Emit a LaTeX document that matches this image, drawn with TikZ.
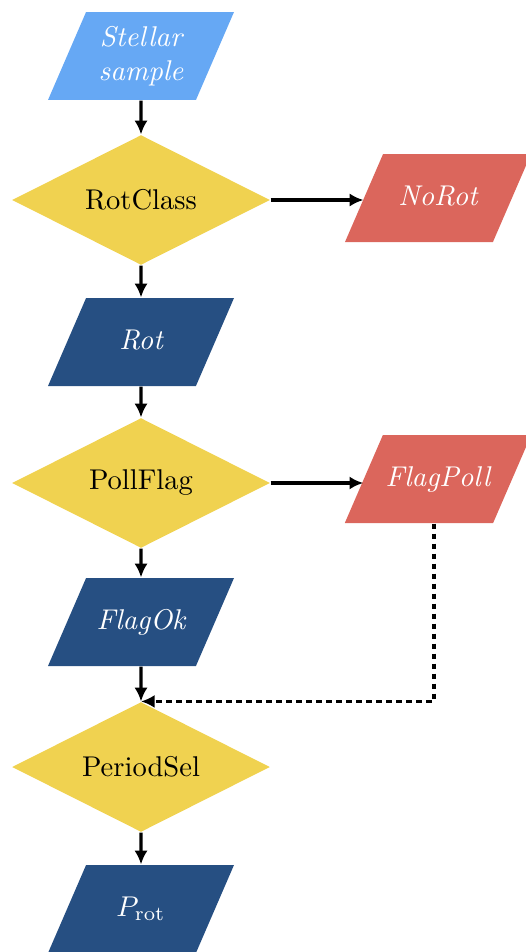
\documentclass[tikz,border=0pt]{standalone}
\usetikzlibrary{shapes.geometric,arrows.meta}

\definecolor{sampleblue}{RGB}{102,168,244}
\definecolor{testyellow}{RGB}{240,210,80}
\definecolor{dropred}{RGB}{219,102,92}
\definecolor{keepblue}{RGB}{38,79,130}

\tikzset{
  test/.style={diamond, aspect=2, fill=testyellow, minimum width=90.3pt, minimum height=45.5pt, inner sep=0pt},
  data/.style={trapezium, trapezium left angle=66.6, trapezium right angle=113.4, trapezium stretches body,
    minimum width=65.1pt, inner xsep=1pt, inner ysep=11pt, text height=6.9pt, text depth=1.9pt,
    text=white, font=\itshape, align=center},
  flow/.style={line width=1.1pt, -{Latex[length=4.8pt,width=4.6pt]}},
}

\begin{document}
\begin{tikzpicture}[x=0.35pt, y=-0.35pt]
\useasboundingbox (0,0) rectangle (525,952);

\node [data, fill=sampleblue, text height=, text depth=, inner ysep=4.9pt] (stellar) at (141,56) {Stellar\\sample};
\node [test] (rotclass) at (141,200) {RotClass};
\node [data, fill=dropred] (norot) at (438,198) {NoRot};
\node [data, fill=keepblue] (rot) at (141,342) {Rot};
\node [test] (pollflag) at (141,483) {PollFlag};
\node [data, fill=dropred] (flagpoll) at (438,479) {FlagPoll};
\node [data, fill=keepblue] (flagok) at (141,622) {FlagOk};
\node [test] (periodsel) at (141,767) {PeriodSel};
\node [data, fill=keepblue, font=\normalfont] (prot) at (141,909) {$P_{\mathrm{rot}}$};

\draw [flow] (stellar) -- (rotclass);
\draw [flow] (rotclass) -- (rot);
\draw [flow] (rot) -- (pollflag);
\draw [flow] (pollflag) -- (flagok);
\draw [flow] (flagok) -- (periodsel);
\draw [flow] (periodsel) -- (prot);

\draw [flow] (rotclass.east) -- (rotclass.east -| norot.west);
\draw [flow] (pollflag.east) -- (pollflag.east -| flagpoll.west);
\draw [flow, dash pattern=on 2pt off 1.5pt] ([xshift=-1.4pt]flagpoll.south) |- (periodsel.north);
\end{tikzpicture}
\end{document}
